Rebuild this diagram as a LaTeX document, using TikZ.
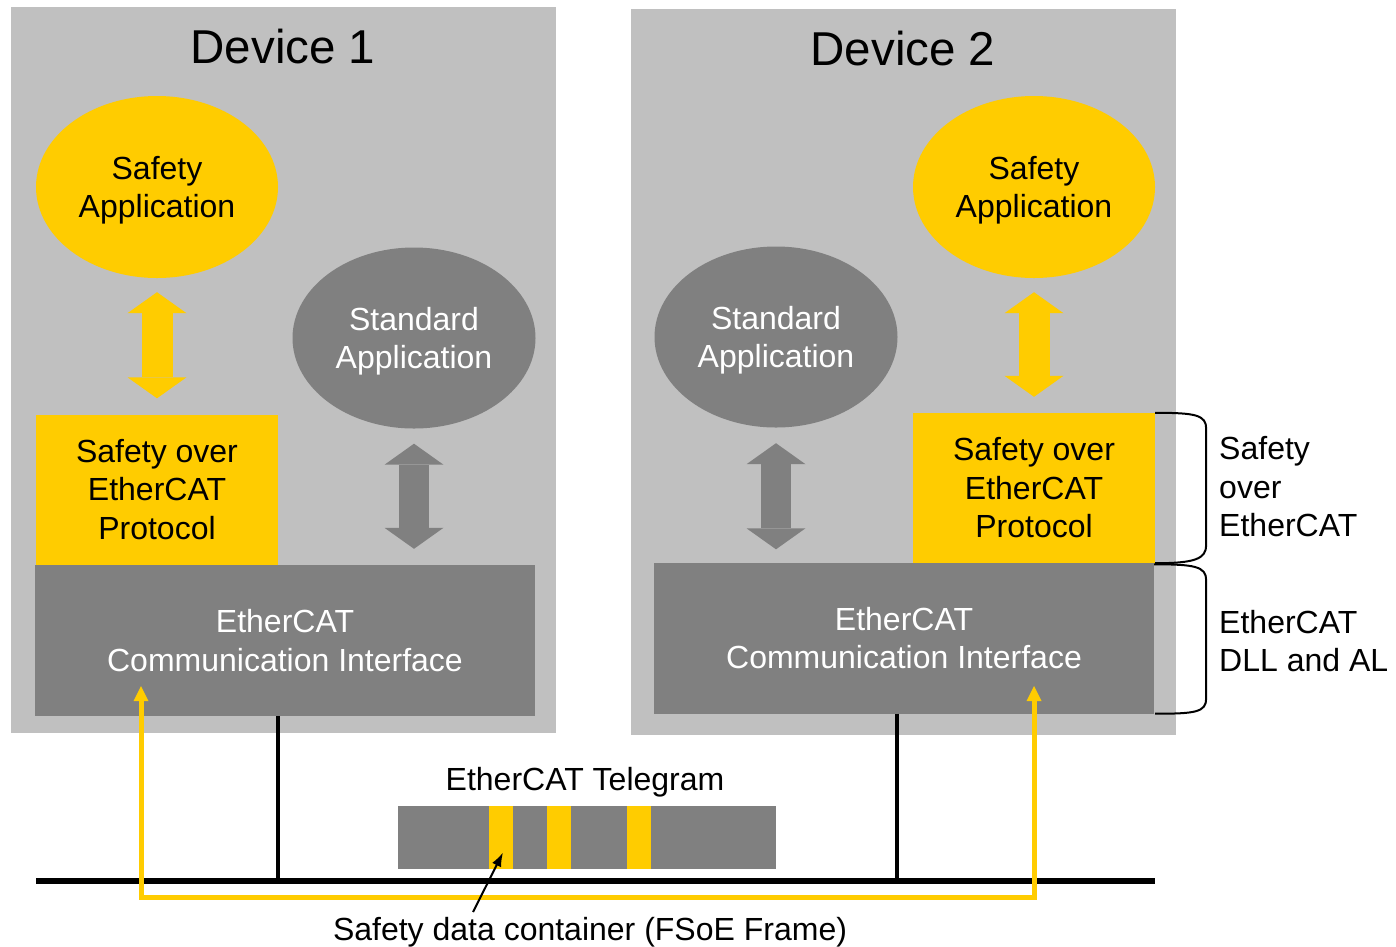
\documentclass[tikz,border=0pt]{standalone}
\usepackage{fontspec}
\setmainfont{Liberation Sans}
\usepackage{tikz}
\usetikzlibrary{shapes.geometric, arrows.meta, positioning, calc}
\definecolor{cPanel}{RGB}{192,192,192}
\definecolor{cYellow}{RGB}{255,204,0}
\definecolor{cDark}{RGB}{128,128,128}
\tikzset{
	panel/.style    ={rectangle, fill=cPanel, inner sep=0pt, minimum width=545pt, minimum height=726pt},
	devtitle/.style ={inner sep=0pt, font=\fontsize{47.5}{54}\selectfont},
	safeapp/.style  ={ellipse, fill=cYellow, minimum width=242pt, minimum height=182pt, inner sep=0pt, align=center, text depth=-2pt},
	stdapp/.style   ={ellipse, fill=cDark, text=white, minimum width=243pt, minimum height=181pt, inner sep=0pt, align=center, text depth=-2pt},
	fsoebox/.style  ={rectangle, fill=cYellow, minimum width=242pt, minimum height=150pt, inner sep=0pt, align=center},
	commbox/.style  ={rectangle, fill=cDark, text=white, minimum width=500pt, minimum height=151pt, inner sep=0pt, align=center},
	% block arrows between the layers
	yarrow/.style   ={cYellow, line width=31pt, {Triangle[width=59pt, length=21pt, line width=0pt]}-{Triangle[width=59pt, length=21pt, line width=0pt]}},
	garrow/.style   ={cDark, line width=30pt, {Triangle[width=59pt, length=21pt, line width=0pt]}-{Triangle[width=59pt, length=21pt, line width=0pt]}},
	% bus and telegram
	bus/.style      ={line width=6pt},
	stub/.style     ={line width=4.5pt},
	fsoeline/.style ={cYellow, line width=5pt, {Triangle[width=15pt, length=15pt, line width=0pt]}-{Triangle[width=15pt, length=15pt, line width=0pt]}},
	telebox/.style  ={rectangle, fill=cDark, inner sep=0pt, minimum width=378pt, minimum height=63pt},
	slot/.style     ={rectangle, fill=cYellow, inner sep=0pt, minimum width=24pt, minimum height=63pt},
	pointer/.style  ={line width=2pt, -{Latex[length=14pt, width=10pt]}},
	brk/.style      ={line width=2pt},
	sidelbl/.style  ={inner sep=0pt, align=left, anchor=west},
}
\begin{document}
\begin{tikzpicture}[x=1pt, y=-1pt, font=\fontsize{32}{38.5}\selectfont]
	\useasboundingbox (0,0) rectangle (1396,946);
	% devices
	\node[panel] (dev1) at (283.5,370) {};
	\node[panel] (dev2) at (903.5,371.5) {};
	\node[devtitle] (title1) at (283,47) {Device 1};
	\node[devtitle] (title2) at (903,49) {Device 2};

	\node[safeapp] (sapp1) at (157,187) {Safety\\Application};
	\node[stdapp] (std1) at (414,338) {Standard\\Application};
	\node[fsoebox] (sop1) at (157,489.5) {Safety over\\EtherCAT\\Protocol};
	\node[commbox] (comm1) at (285,640.5) {EtherCAT\\Communication Interface};

	\node[safeapp] (sapp2) at (1034,187) {Safety\\Application};
	\node[stdapp] (std2) at (776,337) {Standard\\Application};
	\node[fsoebox] (sop2) at (1034,488) {Safety over\\EtherCAT\\Protocol};
	\node[commbox] (comm2) at (904,638) {EtherCAT\\Communication Interface};

	\draw[yarrow, shorten <=14pt, shorten >=16pt] (sapp1) -- (sop1);
	\draw[garrow, shorten <=15pt, shorten >=16pt] (std1.south) -- (std1.south |- comm1.north);
	\draw[yarrow, shorten <=14pt, shorten >=16pt] (sapp2) -- (sop2);
	\draw[garrow, shorten <=15.5pt, shorten >=13pt] (std2.south) -- (std2.south |- comm2.north);

	% brackets on the right
	\draw[brk] (sop2.north east) .. controls +(40,0) and +(0,-14) .. ++(51,16) -- ++(0,116) .. controls +(0,14) and +(40,0) .. (sop2.south east);
	\draw[brk] ([yshift=-2pt]comm2.north east) .. controls +(40,0) and +(0,-14) .. ++(52,16) -- ++(0,118) .. controls +(0,14) and +(40,0) .. ([xshift=1pt]comm2.south east);
	\node[sidelbl] (lblfsoe) at (1219,487) {Safety\\over\\EtherCAT};
	\node[sidelbl] (lbldll) at (1219,641) {EtherCAT\\DLL and AL};

	% bus
	\coordinate (busL) at (36,881);
	\coordinate (busR) at (1155,881);
	\coordinate (tap1) at (278,881);
	\coordinate (tap2) at (897,881);
	\draw[stub] (comm1.south -| tap1) -- (tap1);
	\draw[stub] (comm2.south -| tap2) -- (tap2);
	\draw[bus] (busL) -- (busR);

	% safety data path
	\coordinate (fs1) at (141,686);
	\coordinate (fs2) at (1034,686);
	\coordinate (ret) at (587,897);
	\draw[fsoeline] (fs1) |- (ret) -| (fs2);

	% telegram
	\node[telebox] (tele) at (587,837.5) {};
	\foreach \x/\n in {501/1, 558.5/2, 639/3}
		\node[slot] (slot\n) at (\x,837.5) {};
	\node (telelbl) at (585,782) {EtherCAT Telegram};
	\node (contlbl) at (590,932) {Safety data container (FSoE Frame)};
	\coordinate (ptail) at (473,912);
	\draw[pointer] (ptail) -- ($(slot1.center)+(2,15)$);
\end{tikzpicture}
\end{document}
